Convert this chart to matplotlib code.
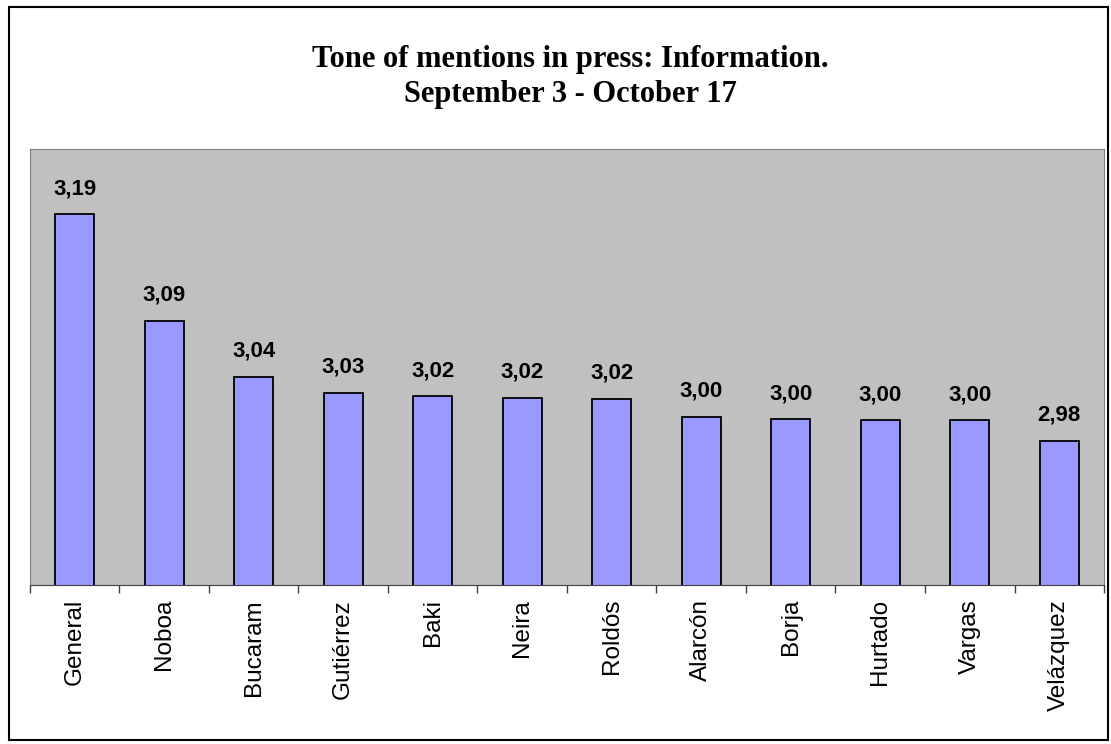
import matplotlib.pyplot as plt
from matplotlib.patches import Rectangle

names = ['General', 'Noboa', 'Bucaram', 'Gutiérrez', 'Baki', 'Neira',
         'Roldós', 'Alarcón', 'Borja', 'Hurtado', 'Vargas', 'Velázquez']
tone = [3.19, 3.092, 3.041, 3.026, 3.023, 3.022, 3.021, 3.004, 3.002,
        3.001, 3.001, 2.982]

fig = plt.figure(figsize=(11.11, 7.44), dpi=100)
fig.patch.set_facecolor('white')
# outer frame of the chart
fig.patches.append(Rectangle((0.008, 0.006), 0.989, 0.984, transform=fig.transFigure,
                             fill=False, edgecolor='black', linewidth=1.5))

ax = fig.add_axes([0.027, 0.2137, 0.9667, 0.586])
ax.set_facecolor('#C0C0C0')
x = range(len(names))
ax.bar(x, tone, width=0.44, bottom=0, color='#9999FF', edgecolor='black', linewidth=1.3)
ax.set_ylim(2.85, 3.25)
ax.set_xlim(-0.5, len(names) - 0.5)

for xi, v in zip(x, tone):
    ax.annotate(f'{v:.2f}'.replace('.', ','), (xi, v), xytext=(0, 11),
                textcoords='offset points', ha='center', va='bottom',
                fontsize=16, fontweight='bold', family='Liberation Sans')

ax.set_yticks([])
ax.set_xticks([i - 0.5 for i in range(len(names) + 1)])
ax.set_xticklabels([])
ax.tick_params(axis='x', which='major', length=6, color='#404040', width=1)
ax.set_xticks(list(x), minor=True)
ax.set_xticklabels(names, minor=True, rotation=90, fontsize=17.5,
                   family='Liberation Sans', va='top')
ax.tick_params(axis='x', which='minor', length=0, pad=10)

for side in ['top', 'left', 'right']:
    ax.spines[side].set_color('#808080')
ax.spines['bottom'].set_color('#404040')

fig.text(0.513, 0.896, 'Tone of mentions in press: Information.\nSeptember 3 - October 17',
         ha='center', va='center', fontsize=22, fontweight='bold',
         family='Liberation Serif', linespacing=1.28)

fig.savefig('out.png', dpi=100)
